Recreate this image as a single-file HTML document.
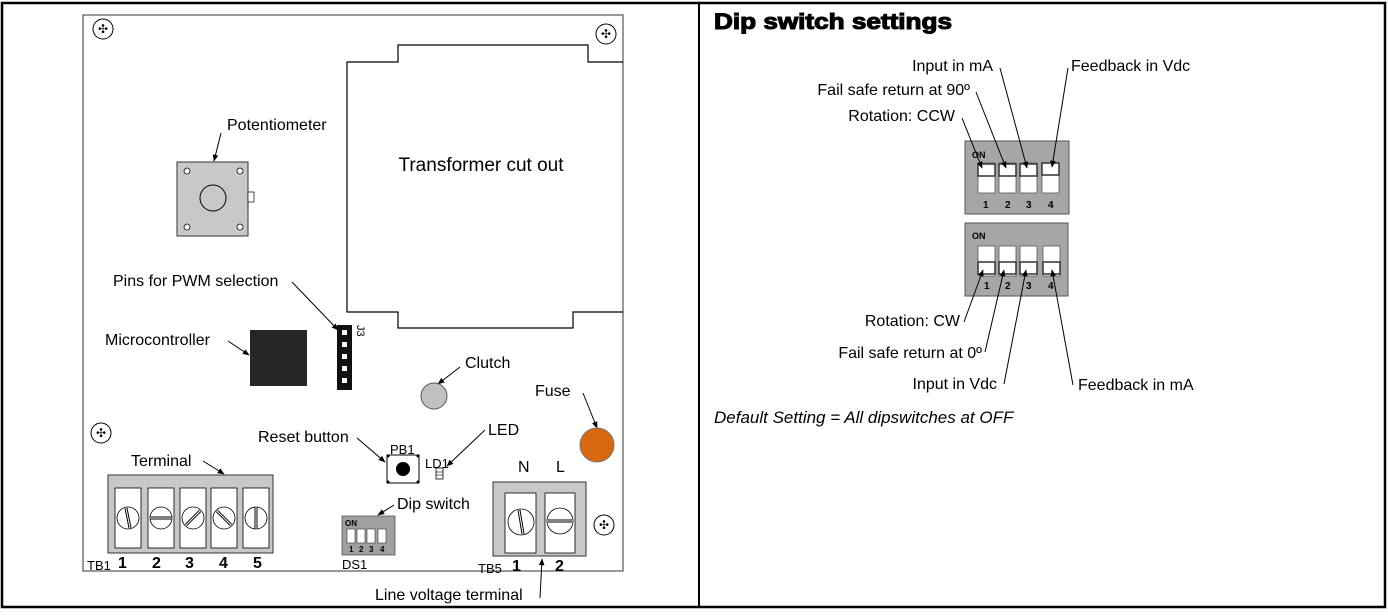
<!DOCTYPE html>
<html><head><meta charset="utf-8"><style>
html,body{margin:0;padding:0;background:#fff;}
svg{display:block;font-family:"Liberation Sans",Arial,sans-serif;}
</style></head><body>
<svg width="1388" height="615" viewBox="0 0 1388 615" xmlns="http://www.w3.org/2000/svg">
<defs>
<marker id="a" viewBox="0 0 10 10" refX="9" refY="5" markerWidth="7" markerHeight="7" orient="auto"><path d="M0,1 L10,5 L0,9 z" fill="#000"/></marker>
<g id="scr"><circle r="10" fill="#fff" stroke="#000" stroke-width="1"/><text x="0" y="4" font-size="12" text-anchor="middle">✣</text></g>
</defs>
<rect x="2" y="3" width="1383" height="604" fill="#fff" stroke="#000" stroke-width="2.5"/>
<line x1="699" y1="3" x2="699" y2="607" stroke="#000" stroke-width="2"/>

<!-- board -->
<rect x="83" y="15" width="540" height="556" fill="#fff" stroke="#333" stroke-width="1"/>
<use href="#scr" x="103" y="29"/><use href="#scr" x="606" y="34"/>
<use href="#scr" x="101" y="433"/><use href="#scr" x="604" y="525"/>
<path d="M623,62 L588,62 L588,45 L398,45 L398,62 L347,62 L347,312 L398,312 L398,328 L573,328 L573,312 L623,312" fill="none" stroke="#000" stroke-width="1.2"/>
<text x="481" y="171" font-size="19" text-anchor="middle">Transformer cut out</text>

<!-- potentiometer -->
<text x="227" y="130" font-size="16">Potentiometer</text>
<line x1="221" y1="133" x2="214" y2="161" stroke="#000" marker-end="url(#a)"/>
<rect x="177" y="162" width="71" height="74" fill="#c8c8c8" stroke="#333"/>
<circle cx="213" cy="198" r="13" fill="none" stroke="#000"/>
<circle cx="187" cy="171" r="3" fill="#fff" stroke="#000" stroke-width=".8"/><circle cx="240" cy="171" r="3" fill="#fff" stroke="#000" stroke-width=".8"/>
<circle cx="187" cy="227" r="3" fill="#fff" stroke="#000" stroke-width=".8"/><circle cx="240" cy="227" r="3" fill="#fff" stroke="#000" stroke-width=".8"/>
<rect x="248" y="192" width="6" height="10" fill="#fff" stroke="#000" stroke-width=".7"/>

<text x="113" y="286" font-size="16">Pins for PWM selection</text>
<line x1="292" y1="282" x2="338" y2="330" stroke="#000" marker-end="url(#a)"/>
<rect x="337" y="325" width="15" height="65" fill="#111"/>
<g fill="#fff"><rect x="342" y="330" width="5" height="5"/><rect x="342" y="342" width="5" height="5"/><rect x="342" y="354" width="5" height="5"/><rect x="342" y="366" width="5" height="5"/><rect x="342" y="378" width="5" height="5"/></g>
<text x="357" y="325" font-size="11" transform="rotate(90 357 325)">J3</text>

<text x="105" y="345" font-size="16">Microcontroller</text>
<line x1="228" y1="341" x2="249" y2="355" stroke="#000" marker-end="url(#a)"/>
<rect x="250" y="330" width="57" height="56" fill="#262626"/>

<text x="465" y="368" font-size="16">Clutch</text>
<line x1="460" y1="367" x2="438" y2="384" stroke="#000" marker-end="url(#a)"/>
<circle cx="434" cy="396" r="13" fill="#c0c0c0" stroke="#555"/>

<text x="535" y="396" font-size="16">Fuse</text>
<line x1="583" y1="393" x2="597" y2="428" stroke="#000" marker-end="url(#a)"/>
<circle cx="597" cy="445" r="17" fill="#d9690f" stroke="#777"/>

<text x="258" y="442" font-size="16">Reset button</text>
<line x1="357" y1="438" x2="385" y2="462" stroke="#000" marker-end="url(#a)"/>
<text x="390" y="454" font-size="13">PB1</text>
<rect x="387" y="455" width="32" height="28" fill="#fff" stroke="#000"/>
<circle cx="403" cy="469" r="7" fill="#000"/>
<g fill="#000"><circle cx="388" cy="456" r="1.5"/><circle cx="418" cy="456" r="1.5"/><circle cx="388" cy="482" r="1.5"/><circle cx="418" cy="482" r="1.5"/></g>
<text x="488" y="435" font-size="16">LED</text>
<line x1="485" y1="430" x2="447" y2="466" stroke="#000" marker-end="url(#a)"/>
<text x="425" y="468" font-size="13">LD1</text>
<rect x="436" y="468" width="7" height="11" fill="#fff" stroke="#000" stroke-width=".8"/>
<line x1="436" y1="472" x2="443" y2="472" stroke="#000" stroke-width=".6"/><line x1="436" y1="475" x2="443" y2="475" stroke="#000" stroke-width=".6"/>

<text x="131" y="466" font-size="16">Terminal</text>
<line x1="203" y1="461" x2="224" y2="474" stroke="#000" marker-end="url(#a)"/>
<rect x="108" y="475" width="165" height="78" fill="#c8c8c8" stroke="#333"/>
<g fill="#fff" stroke="#000" stroke-width=".8">
<rect x="115" y="488" width="26" height="60"/><rect x="148" y="488" width="26" height="60"/><rect x="180" y="488" width="26" height="60"/><rect x="211" y="488" width="26" height="60"/><rect x="243" y="488" width="26" height="60"/>
<circle cx="128" cy="518" r="11"/><circle cx="161" cy="518" r="11"/><circle cx="193" cy="518" r="11"/><circle cx="224" cy="518" r="11"/><circle cx="256" cy="518" r="11"/>
</g>
<g stroke="#000" stroke-width="3"><line x1="126" y1="508" x2="130" y2="528"/><line x1="150" y1="518" x2="172" y2="518"/><line x1="186" y1="525" x2="200" y2="511"/><line x1="217" y1="511" x2="231" y2="525"/><line x1="256" y1="507" x2="256" y2="529"/></g>
<g stroke="#fff" stroke-width="1"><line x1="126" y1="508" x2="130" y2="528"/><line x1="150" y1="518" x2="172" y2="518"/><line x1="186" y1="525" x2="200" y2="511"/><line x1="217" y1="511" x2="231" y2="525"/><line x1="256" y1="507" x2="256" y2="529"/></g>
<text x="87" y="570" font-size="13">TB1</text>
<g font-size="16" font-weight="bold"><text x="118" y="568">1</text><text x="152" y="568">2</text><text x="185" y="568">3</text><text x="219" y="568">4</text><text x="253" y="568">5</text></g>

<text x="397" y="509" font-size="16">Dip switch</text>
<line x1="394" y1="505" x2="378" y2="515" stroke="#000" marker-end="url(#a)"/>
<rect x="342" y="516" width="53" height="39" fill="#a0a0a0" stroke="#555" stroke-width=".8"/>
<text x="345" y="526" font-size="8" font-weight="bold">ON</text>
<g fill="#fff" stroke="#333" stroke-width=".6"><rect x="347" y="529" width="8" height="14"/><rect x="357" y="529" width="8" height="14"/><rect x="367" y="529" width="8" height="14"/><rect x="378" y="529" width="8" height="14"/></g>
<g font-size="8" font-weight="bold"><text x="349" y="552">1</text><text x="359" y="552">2</text><text x="369" y="552">3</text><text x="380" y="552">4</text></g>
<text x="342" y="569" font-size="13">DS1</text>

<text x="518" y="472" font-size="16">N</text><text x="556" y="472" font-size="16">L</text>
<rect x="493" y="482" width="93" height="74" fill="#c8c8c8" stroke="#333"/>
<g fill="#fff" stroke="#000" stroke-width=".8"><rect x="505" y="493" width="31" height="60"/><rect x="545" y="493" width="30" height="60"/><circle cx="521" cy="522" r="13"/><circle cx="560" cy="521" r="13"/></g>
<g stroke="#000" stroke-width="3"><line x1="519" y1="510" x2="523" y2="534"/><line x1="548" y1="521" x2="572" y2="521"/></g>
<g stroke="#fff" stroke-width="1"><line x1="519" y1="510" x2="523" y2="534"/><line x1="548" y1="521" x2="572" y2="521"/></g>
<text x="478" y="573" font-size="13">TB5</text>
<g font-size="16" font-weight="bold"><text x="512" y="571">1</text><text x="555" y="571">2</text></g>
<text x="375" y="600" font-size="16">Line voltage terminal</text>
<line x1="540" y1="598" x2="542" y2="559" stroke="#000" marker-end="url(#a)"/>

<!-- right panel -->
<text x="714" y="29" font-size="22" font-weight="bold" stroke="#000" stroke-width="1.1" textLength="238" lengthAdjust="spacingAndGlyphs">Dip switch settings</text>
<g font-size="16">
<text x="993" y="71" text-anchor="end">Input in mA</text>
<text x="1071" y="71">Feedback in Vdc</text>
<text x="970" y="95" text-anchor="end">Fail safe return at 90º</text>
<text x="955" y="121" text-anchor="end">Rotation: CCW</text>
<text x="960" y="326" text-anchor="end">Rotation: CW</text>
<text x="982" y="358" text-anchor="end">Fail safe return at 0º</text>
<text x="997" y="389" text-anchor="end">Input in Vdc</text>
<text x="1078" y="390">Feedback in mA</text>
<text x="714" y="423" font-style="italic" font-size="17">Default Setting =  All dipswitches at OFF</text>
</g>
<!-- top dip -->
<rect x="965" y="141" width="104" height="73" fill="#a6a6a6" stroke="#555" stroke-width="1"/>
<text x="972" y="158" font-size="9" font-weight="bold">ON</text>
<g fill="#fff" stroke="#555" stroke-width=".8">
<rect x="978" y="163" width="17" height="30"/><rect x="999" y="163" width="17" height="30"/><rect x="1020" y="163" width="17" height="30"/><rect x="1042" y="163" width="17" height="30"/>
</g>
<g fill="#fff" stroke="#333" stroke-width="1.5"><rect x="978" y="164" width="17" height="12"/><rect x="999" y="164" width="17" height="12"/><rect x="1020" y="164" width="17" height="12"/><rect x="1042" y="163" width="17" height="12"/></g>
<g font-size="10" font-weight="bold"><text x="983" y="208">1</text><text x="1005" y="208">2</text><text x="1026" y="208">3</text><text x="1048" y="208">4</text></g>
<!-- bottom dip -->
<rect x="965" y="223" width="103" height="73" fill="#a6a6a6" stroke="#555" stroke-width="1"/>
<text x="972" y="239" font-size="9" font-weight="bold">ON</text>
<g fill="#fff" stroke="#555" stroke-width=".8">
<rect x="978" y="246" width="17" height="30"/><rect x="999" y="246" width="17" height="30"/><rect x="1020" y="246" width="17" height="30"/><rect x="1043" y="246" width="17" height="30"/>
</g>
<g fill="#fff" stroke="#333" stroke-width="1.5"><rect x="978" y="262" width="17" height="12"/><rect x="999" y="262" width="17" height="12"/><rect x="1020" y="262" width="17" height="12"/><rect x="1043" y="262" width="17" height="12"/></g>
<g font-size="10" font-weight="bold"><text x="984" y="289">1</text><text x="1005" y="289">2</text><text x="1026" y="289">3</text><text x="1048" y="289">4</text></g>
<g stroke="#000" stroke-width="1">
<line x1="962" y1="118" x2="982" y2="168" marker-end="url(#a)"/>
<line x1="976" y1="92" x2="1006" y2="168" marker-end="url(#a)"/>
<line x1="1000" y1="68" x2="1027" y2="168" marker-end="url(#a)"/>
<line x1="1068" y1="68" x2="1052" y2="167" marker-end="url(#a)"/>
<line x1="964" y1="322" x2="983" y2="270" marker-end="url(#a)"/>
<line x1="985" y1="352" x2="1004" y2="270" marker-end="url(#a)"/>
<line x1="1004" y1="384" x2="1026" y2="270" marker-end="url(#a)"/>
<line x1="1073" y1="385" x2="1052" y2="270" marker-end="url(#a)"/>
</g>
</svg>
</body></html>
